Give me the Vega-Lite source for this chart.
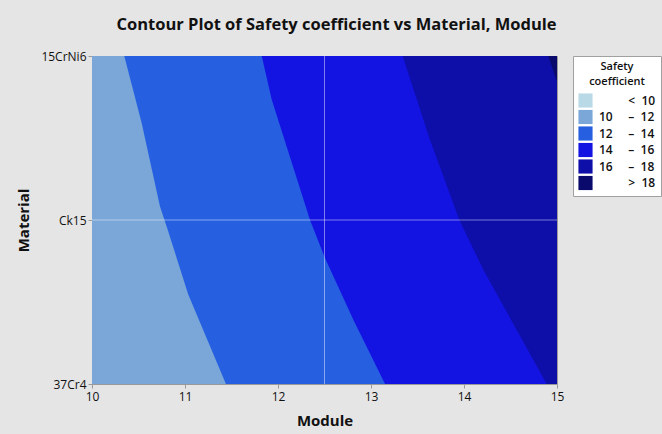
{
  "$schema": "https://vega.github.io/schema/vega-lite/v6.json",
  "width": 465,
  "height": 328,
  "autosize": {"type": "none"},
  "padding": {"left": 92, "top": 56, "right": 105, "bottom": 50},
  "background": "#e5e5e5",
  "title": {
    "text": "Contour Plot of Safety coefficient vs Material, Module",
    "font": "Open Sans",
    "fontSize": 16.5,
    "fontWeight": "bold",
    "color": "#111111",
    "anchor": "middle",
    "offset": 17,
    "dx": 12
  },
  "datasets": {
    "contours": [
      {"level": "b", "m": 10, "v": 0},
      {"level": "b", "m": 15, "v": 0},
      {"level": "c", "m": 10.347, "v": 2},
      {"level": "c", "m": 10.534, "v": 1.591},
      {"level": "c", "m": 10.731, "v": 1.083},
      {"level": "c", "m": 10.814, "v": 0.941},
      {"level": "c", "m": 11.035, "v": 0.545},
      {"level": "c", "m": 11.44, "v": 0},
      {"level": "c", "m": 15, "v": 0},
      {"level": "d", "m": 11.825, "v": 2},
      {"level": "d", "m": 11.932, "v": 1.734},
      {"level": "d", "m": 12.344, "v": 1.0},
      {"level": "d", "m": 12.505, "v": 0.768},
      {"level": "d", "m": 12.81, "v": 0.392},
      {"level": "d", "m": 13.151, "v": 0},
      {"level": "d", "m": 15, "v": 0},
      {"level": "e", "m": 13.34, "v": 2},
      {"level": "e", "m": 13.634, "v": 1.49},
      {"level": "e", "m": 13.95, "v": 1.0},
      {"level": "e", "m": 14.208, "v": 0.697},
      {"level": "e", "m": 14.889, "v": 0},
      {"level": "e", "m": 15, "v": 0},
      {"level": "f", "m": 14.906, "v": 2},
      {"level": "f", "m": 15, "v": 1.845}
    ],
    "vgrid": [{"m": 12.5}],
    "hgrid": [{"v": 1}]
  },
  "layer": [
    {
      "data": {"name": "contours"},
      "mark": {"type": "area", "clip": true},
      "encoding": {
        "x": {
          "field": "m",
          "type": "quantitative",
          "scale": {"domain": [10, 15], "nice": false, "zero": false},
          "axis": {"title": "Module", "values": [10, 11, 12, 13, 14, 15], "format": "d", "labelFlush": false}
        },
        "y": {
          "field": "v",
          "type": "quantitative",
          "stack": null,
          "scale": {"domain": [0, 2], "nice": false, "zero": false},
          "axis": {
            "title": "Material",
            "values": [0, 1, 2],
            "labelFlush": false,
            "labelExpr": "datum.value == 0 ? '37Cr4' : datum.value == 1 ? 'Ck15' : '15CrNi6'"
          }
        },
        "y2": {"datum": 2},
        "color": {
          "field": "level",
          "type": "nominal",
          "scale": {
            "domain": ["a", "b", "c", "d", "e", "f"],
            "range": ["#bad9e7", "#7ba7d8", "#2660e0", "#1414e2", "#0e0ea8", "#0a0a6c"]
          },
          "legend": {
            "title": ["Safety", "coefficient"],
            "orient": "right",
            "offset": 16,
            "labelExpr": "datum.value == 'a' ? '\u200d\u2007\u2007\u00a0\u00a0\u00a0\u00a0\u00a0<\u00a0\u00a010' : datum.value == 'b' ? '10\u00a0\u00a0\u00a0\u00a0\u00a0\u2013\u00a0\u00a012' : datum.value == 'c' ? '12\u00a0\u00a0\u00a0\u00a0\u00a0\u2013\u00a0\u00a014' : datum.value == 'd' ? '14\u00a0\u00a0\u00a0\u00a0\u00a0\u2013\u00a0\u00a016' : datum.value == 'e' ? '16\u00a0\u00a0\u00a0\u00a0\u00a0\u2013\u00a0\u00a018' : '\u200d\u2007\u2007\u00a0\u00a0\u00a0\u00a0\u00a0>\u00a0\u00a018'"
          }
        }
      }
    },
    {
      "data": {"name": "vgrid"},
      "mark": {"type": "rule", "color": "#ffffff", "opacity": 0.45, "strokeWidth": 1},
      "encoding": {"x": {"field": "m", "type": "quantitative"}}
    },
    {
      "data": {"name": "hgrid"},
      "mark": {"type": "rule", "color": "#ffffff", "opacity": 0.45, "strokeWidth": 1},
      "encoding": {"y": {"field": "v", "type": "quantitative"}}
    }
  ],
  "config": {
    "font": "Open Sans",
    "view": {"stroke": "#9a9a9a", "strokeWidth": 1},
    "axis": {
      "grid": false,
      "domain": false,
      "tickColor": "#9a9a9a",
      "tickSize": 4,
      "labelFont": "Open Sans",
      "labelFontSize": 12,
      "labelColor": "#111111",
      "titleFont": "Open Sans",
      "titleFontSize": 15,
      "titleFontWeight": "bold",
      "titleColor": "#111111"
    },
    "axisX": {"labelPadding": 3, "titlePadding": 11},
    "axisY": {"labelPadding": 2, "titlePadding": 9},
    "legend": {
      "fillColor": "#ffffff",
      "strokeColor": "#a0a0a0",
      "padding": 5,
      "titleFont": "Open Sans",
      "titleFontSize": 11,
      "titleFontWeight": 600,
      "titleLineHeight": 15,
      "titleAnchor": "middle",
      "titleAlign": "center",
      "titleColor": "#111111",
      "titlePadding": 6,
      "labelFont": "Open Sans",
      "labelFontSize": 12,
      "labelFontWeight": 600,
      "labelColor": "#111111",
      "labelOffset": 6,
      "symbolType": "square",
      "symbolSize": 200,
      "symbolStrokeWidth": 0,
      "symbolOpacity": 1,
      "rowPadding": 1.5
    }
  }
}
